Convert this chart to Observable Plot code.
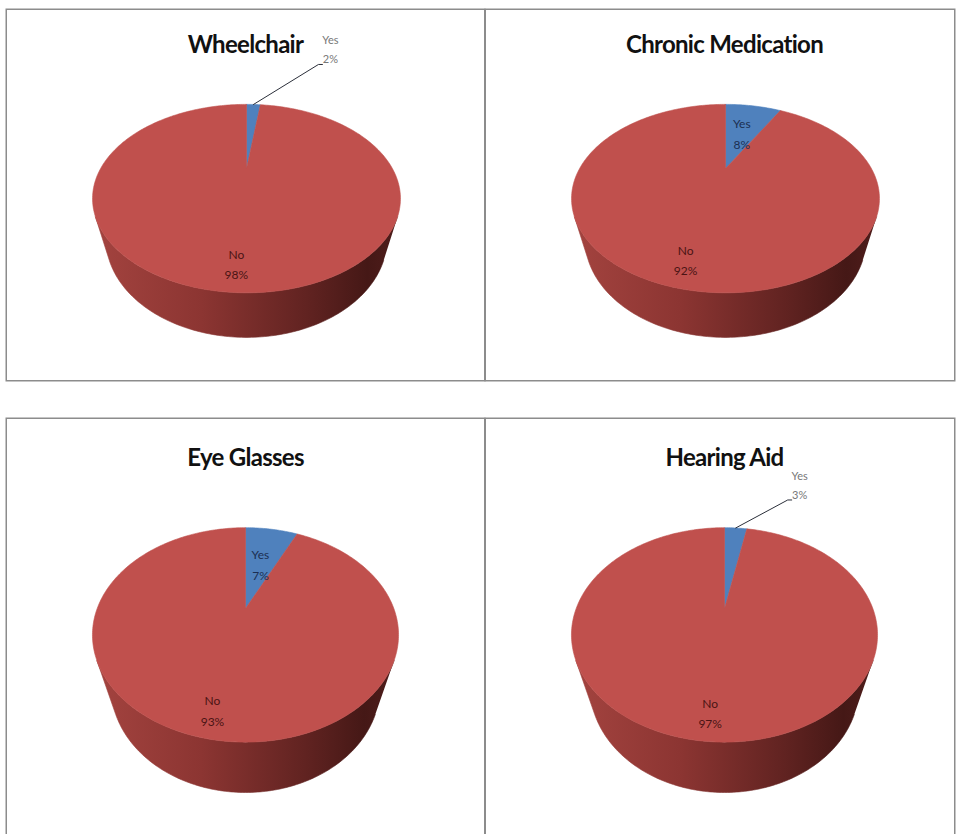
<!DOCTYPE html>
<html>
<head>
<meta charset="utf-8">
<script src="https://cdn.jsdelivr.net/npm/d3@7"></script>
<script src="https://cdn.jsdelivr.net/npm/@observablehq/plot@0.6"></script>
<style>
html, body { margin: 0; padding: 0; background: #fff; overflow: hidden; }
#wrap { position: relative; width: 957px; height: 834px; overflow: hidden; }
.panel { position: absolute; width: 480px; }
.panel svg { display: block; max-width: none !important; }
.panel .chart-title text { letter-spacing: -0.7px; }
</style>
</head>
<body>
<div id="wrap"></div>
<script>
// ---- data ----
const titles = ["Wheelchair", "Chronic Medication", "Eye Glasses", "Hearing Aid"];
const categories = ["Yes", "No"];
const yesValues = [2, 8, 7, 3];
const noValues = [98, 92, 93, 97];
const labelPlacement = ["outside", "inside", "inside", "outside"];

// ---- styling / layout ----
const sliceColors = ["#4f81bd", "#c0504d"];
const labelColors = {Yes: "#1c2f52", No: "#4a1414"};
const TITLE_FONT = "Lato, 'Open Sans', sans-serif";
const LABEL_FONT = "Lato, 'Open Sans', sans-serif";
const topView = {cx: 241, cy: 160, f: 372, sinPhi: 0.58, D: 2.55, h: 0.377, titleY: 44};
const bottomView = {cx: 240, cy: 191, f: 442, sinPhi: 0.679, D: 2.98, h: 0.567, titleY: 48};
const layout = [
  {left: 5, top: 8, height: 373, insetRight: 0, view: topView, outOffset: [65, -40]},
  {left: 484, top: 8, height: 373, insetRight: 9, view: topView, outOffset: [65, -40]},
  {left: 5, top: 417, height: 420, insetRight: 0, view: bottomView, outOffset: [52, -28]},
  {left: 484, top: 417, height: 420, insetRight: 9, view: bottomView, outOffset: [52, -28]}
];
const wallStops = {
  No: [[0, "#a3433f"], [0.35, "#8c3532"], [0.7, "#612321"], [0.9, "#451816"], [1, "#4f1d1b"]],
  Yes: [[0, "#3f6a9e"], [1, "#243f63"]]
};

const TAU = 2 * Math.PI;
const W = 480;
const wrap = document.getElementById("wrap");

titles.forEach((title, i) => {
  const L = layout[i], v = L.view, H = L.height;
  const sp = v.sinPhi, cp = Math.sqrt(1 - sp * sp), D = v.D;
  const proj = (X, Y, Z) => {
    const d = D - (Y * cp + Z * sp);
    return {x: X / d, y: (Z * cp - Y * sp) / d};
  };
  const onCircle = (theta, rho, Z) => proj(rho * Math.sin(theta), -rho * Math.cos(theta), Z);

  const values = [yesValues[i], noValues[i]];
  const total = d3.sum(values);
  let acc = 0;
  const slices = categories.map((c, k) => {
    const a0 = acc / total * TAU;
    acc += values[k];
    return {category: c, value: values[k], a0, a1: acc / total * TAU, k};
  });

  // top face polygons
  const topFace = [];
  slices.forEach(s => {
    const n = Math.max(2, Math.ceil((s.a1 - s.a0) / TAU * 360));
    topFace.push({slice: s.k, category: s.category, ...proj(0, 0, 0)});
    for (let j = 0; j <= n; j++) {
      const a = s.a0 + (s.a1 - s.a0) * j / n;
      topFace.push({slice: s.k, category: s.category, ...onCircle(a, 1, 0)});
    }
    topFace.push({slice: s.k, category: s.category, ...proj(0, 0, 0)});
  });

  // visible side wall (between silhouette generators)
  const Ys = 1 / (D * cp);
  const thR = Math.acos(-Ys), thL = TAU - thR;
  const wall = [];
  slices.forEach(s => {
    const lo = Math.max(s.a0, thR), hi = Math.min(s.a1, thL);
    if (hi <= lo) return;
    const n = Math.max(2, Math.ceil((hi - lo) / TAU * 360));
    for (let j = 0; j <= n; j++) wall.push({slice: s.k, category: s.category, ...onCircle(lo + (hi - lo) * j / n, 1, 0)});
    for (let j = n; j >= 0; j--) wall.push({slice: s.k, category: s.category, ...onCircle(lo + (hi - lo) * j / n, 1, -v.h)});
  });

  // labels
  const pct = s => `${s.category}\n${Math.round(s.value / total * 100)}%`;
  const inside = [], outside = [], leader = [];
  slices.forEach(s => {
    const mid = (s.a0 + s.a1) / 2;
    const small = s.value / total < 0.1;
    if (s.category === "Yes" && labelPlacement[i] === "outside") {
      const edge = onCircle(mid, 1, 0);
      const end = {x: edge.x + L.outOffset[0] / v.f, y: edge.y - L.outOffset[1] / v.f};
      leader.push(edge, end, {x: end.x + 4 / v.f, y: end.y});
      outside.push({...end, text: pct(s)});
    } else {
      const p = onCircle(mid, small ? 0.52 : 0.82, 0);
      inside.push({...p, text: pct(s), category: s.category});
    }
  });

  const gid = c => `wall${c}${i}`;
  const svg = Plot.plot({
    width: W,
    height: H,
    margin: 0,
    style: {fontFamily: LABEL_FONT, background: "transparent", overflow: "visible", maxWidth: "none"},
    x: {domain: [-v.cx / v.f, (W - v.cx) / v.f], axis: null},
    y: {domain: [-(H - v.cy) / v.f, v.cy / v.f], axis: null},
    color: {domain: categories, range: sliceColors},
    marks: [
      Plot.frame({stroke: "#8c8c8c", strokeWidth: 1.5, insetTop: 0.75, insetLeft: 0.75, insetBottom: 0.75, insetRight: L.insetRight + 0.75}),
      ...categories.map(c => Plot.line(wall.filter(d => d.category === c), {
        x: "x", y: "y", z: "slice", fill: `url(#${gid(c)})`, stroke: `url(#${gid(c)})`, strokeWidth: 0.6
      })),
      Plot.line(topFace, {x: "x", y: "y", z: "slice", fill: "category", stroke: "category", strokeWidth: 0.6}),
      Plot.line(leader, {x: "x", y: "y", stroke: "#2b2f3a", strokeWidth: 1, fill: "none"}),
      Plot.text(inside, {
        x: "x", y: "y", text: "text", fill: d => labelColors[d.category],
        lineAnchor: "middle", fontSize: 12, lineHeight: 1.7, fontFamily: LABEL_FONT
      }),
      Plot.text(outside, {
        x: "x", y: "y", text: "text", fill: "#777777", textAnchor: "middle",
        dx: 12, dy: -1, lineAnchor: "bottom", fontSize: 11, lineHeight: 1.75, fontFamily: LABEL_FONT
      }),
      Plot.text([title], {
        frameAnchor: "top", text: d => d, lineAnchor: "bottom", dy: v.titleY,
        fontSize: 24, fontWeight: "bold", fill: "#111", fontFamily: TITLE_FONT,
        className: "chart-title"
      })
    ]
  });

  const defs = d3.select(svg).insert("defs", ":first-child");
  categories.forEach(c => {
    const g = defs.append("linearGradient").attr("id", gid(c))
      .attr("x1", "0").attr("x2", "1").attr("y1", "0").attr("y2", "0");
    wallStops[c].forEach(([o, col]) => g.append("stop").attr("offset", o).attr("stop-color", col));
  });

  const div = document.createElement("div");
  div.className = "panel";
  div.style.left = L.left + "px";
  div.style.top = L.top + "px";
  div.appendChild(svg);
  wrap.appendChild(div);
});
</script>
</body>
</html>
